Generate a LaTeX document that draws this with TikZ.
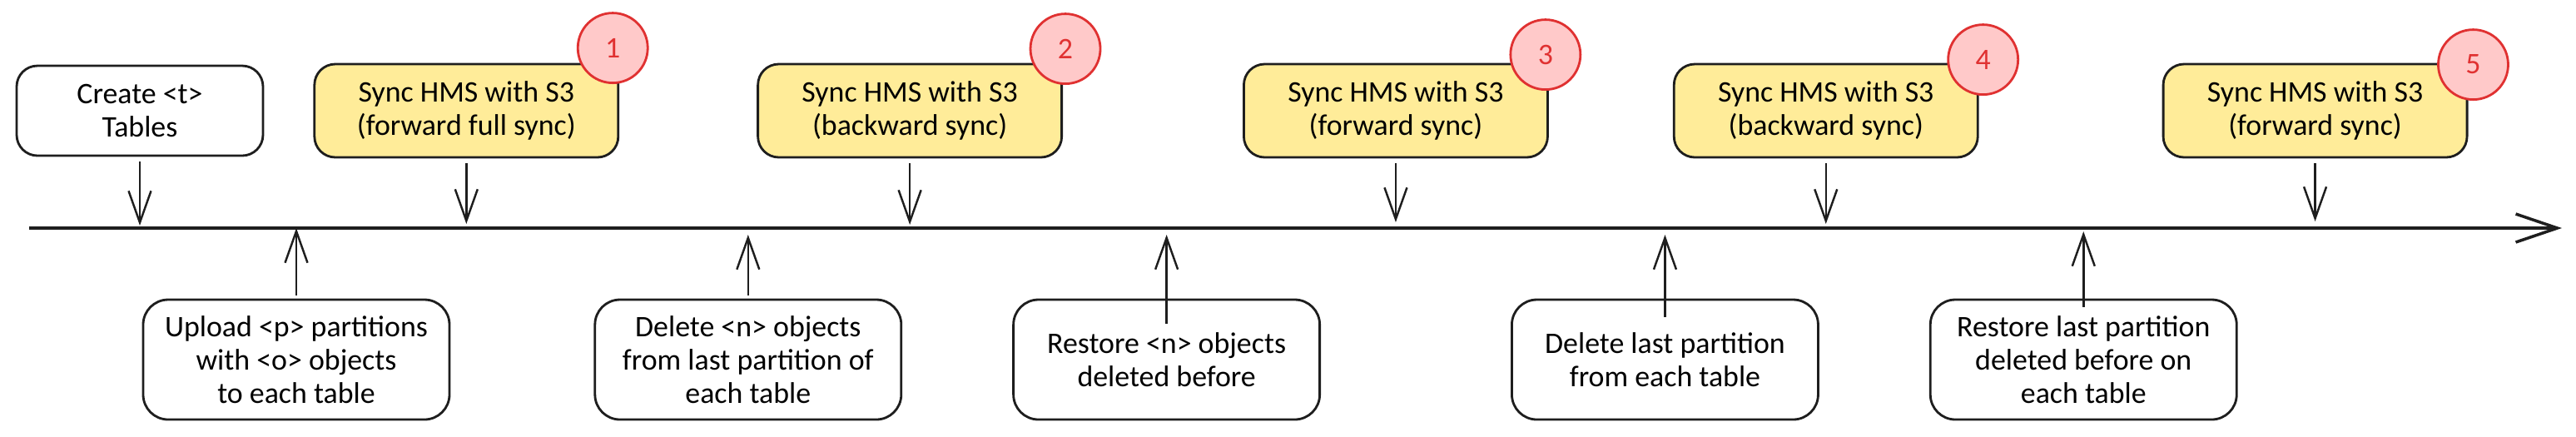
\documentclass[tikz,border=0pt]{standalone}
\usepackage{fontspec}
\setmainfont{Carlito}
\usetikzlibrary{
  arrows.meta,
  positioning,
  calc
}
\definecolor{tlInk}{RGB}{30,30,30}
\definecolor{tlSync}{RGB}{255,236,153}
\definecolor{tlBadge}{RGB}{255,201,201}
\definecolor{tlRed}{RGB}{224,49,49}
\tikzset{
  tlbox/.style={
    draw=tlInk,
    line width=0.8pt,
    rounded corners=2.5mm,
    align=center,
    fill=white,
    inner sep=2pt,
    font=\fontsize{10.2}{11.4}\selectfont
  },
  syncbox/.style={
    tlbox,
    fill=tlSync,
    minimum width=36.5mm,
    minimum height=11.2mm
  },
  actbox/.style={
    tlbox,
    rounded corners=3mm,
    minimum width=36.8mm,
    minimum height=14.4mm
  },
  badge/.style={
    circle,
    draw=tlRed,
    fill=tlBadge,
    line width=0.8pt,
    minimum size=8.4mm,
    inner sep=0pt,
    text=tlRed,
    font=\fontsize{10.2}{11.4}\selectfont
  },
  tlarrow/.style={
    -{Straight Barb[length=3.8mm,width=2.7mm]},
    line width=0.7pt,
    draw=tlInk
  },
  tlaxis/.style={
    -{Straight Barb[length=5mm,width=3.4mm]},
    line width=1pt,
    draw=tlInk
  }
}

\begin{document}
\begin{tikzpicture}
  \useasboundingbox (0,0) rectangle (30.95,-5.24);

  \coordinate (t0) at (0.35,-2.74);
  \coordinate (t1) at (30.78,-2.74);
  \draw[tlaxis] (t0) -- (t1);

  \node[tlbox, minimum width=29.6mm, minimum height=10.8mm] (create) at (1.68,-1.33) {Create <t>\\Tables};
  \node[syncbox, right=5.9mm of create] (s1) {Sync HMS with S3\\(forward full sync)};
  \node[syncbox, right=16.5mm of s1] (s2) {Sync HMS with S3\\(backward sync)};
  \node[syncbox, right=21.6mm of s2] (s3) {Sync HMS with S3\\(forward sync)};
  \node[syncbox, right=14.9mm of s3] (s4) {Sync HMS with S3\\(backward sync)};
  \node[syncbox, right=22mm of s4] (s5) {Sync HMS with S3\\(forward sync)};

  \node[badge] (n1) at ($(s1.north east)+(-0.8mm,1.8mm)$) {1};
  \node[badge] (n2) at ($(s2.north east)+(0.3mm,1.7mm)$) {2};
  \node[badge] (n3) at ($(s3.north east)+(-0.4mm,1mm)$) {3};
  \node[badge] (n4) at ($(s4.north east)+(0.5mm,0.4mm)$) {4};
  \node[badge] (n5) at ($(s5.north east)+(0.6mm,-0.2mm)$) {5};

  \node[actbox] (b1) at (3.56,-4.32) {Upload <p> partitions\\with <o> objects\\to each table};
  \node[actbox, right=17.2mm of b1] (b2) {Delete <n> objects\\from last partition of\\each table};
  \node[actbox, right=13.2mm of b2] (b3) {Restore <n> objects\\deleted before};
  \node[actbox, right=22.8mm of b3] (b4) {Delete last partition\\from each table};
  \node[actbox, right=13.2mm of b4] (b5) {Restore last partition\\deleted before on\\each table};

  \draw[tlarrow, shorten <=0.6mm, shorten >=0.3mm] (create.south) -- (create.south |- t0);
  \draw[tlarrow, shorten <=0.6mm, shorten >=0.5mm] (s1.south) -- (s1.south |- t0);
  \draw[tlarrow, shorten <=0.6mm, shorten >=0.4mm] (s2.south) -- (s2.south |- t0);
  \draw[tlarrow, shorten <=0.6mm, shorten >=0.7mm] (s3.south) -- (s3.south |- t0);
  \draw[tlarrow, shorten <=0.6mm, shorten >=0.5mm] (s4.south) -- (s4.south |- t0);
  \draw[tlarrow, shorten <=0.6mm, shorten >=0.8mm] (s5.south) -- (s5.south |- t0);

  \draw[tlarrow, shorten <=0.4mm] (b1.north) -- (b1.north |- t0);
  \draw[tlarrow, shorten <=0.4mm, shorten >=0.8mm] (b2.north) -- (b2.north |- t0);
  \draw[tlarrow, shorten <=-3mm, shorten >=0.8mm] (b3.north) -- (b3.north |- t0);
  \draw[tlarrow, shorten <=-2.2mm, shorten >=0.8mm] (b4.north) -- (b4.north |- t0);
  \draw[tlarrow, shorten <=-1mm, shorten >=0.4mm] (b5.north) -- (b5.north |- t0);
\end{tikzpicture}
\end{document}
